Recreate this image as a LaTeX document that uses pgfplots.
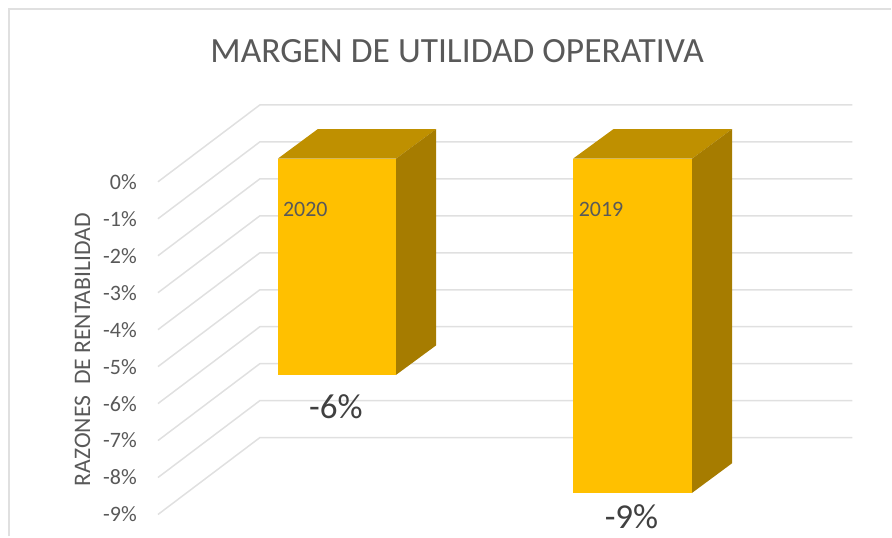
\documentclass[border=0pt]{standalone}
\usepackage{pgfplots}
\pgfplotsset{compat=1.18}
\usepackage{fontspec}
\setmainfont{Carlito}
\definecolor{gridc}{HTML}{E0E0E0}
\definecolor{txt}{HTML}{595959}
\definecolor{txtd}{HTML}{404040}
\definecolor{front}{HTML}{FFC000}
\definecolor{topf}{HTML}{BF9000}
\definecolor{sidef}{HTML}{A67C00}
\begin{document}
\begin{tikzpicture}
\begin{axis}[
  at={(0,0)}, anchor=south west,
  scale only axis, width=892pt, height=537pt,
  xmin=0, xmax=892, ymin=-9.5946, ymax=4.9189,
  clip=false,
  axis line style={draw=none},
  major tick length=0pt,
  xtick=\empty,
  ytick={-9,-8,-7,-6,-5,-4,-3,-2,-1,0},
  yticklabels={-9\%,-8\%,-7\%,-6\%,-5\%,-4\%,-3\%,-2\%,-1\%,0\%},
  yticklabel style={font=\fontsize{22}{22}\selectfont, text=txt, anchor=east, xshift=137pt, inner sep=0pt},
]
% chart frame
\addplot[gridc, line width=1.5pt] coordinates {(9,-9.5946) (9,4.673) (892,4.673)};
% gridlines
\addplot[gridc, line width=1.5pt] coordinates {(158,0) (260,2.08) (853,2.08)};
\addplot[gridc, line width=1.5pt] coordinates {(158,-1) (260,1.08) (853,1.08)};
\addplot[gridc, line width=1.5pt] coordinates {(158,-2) (260,0.08) (853,0.08)};
\addplot[gridc, line width=1.5pt] coordinates {(158,-3) (260,-0.92) (853,-0.92)};
\addplot[gridc, line width=1.5pt] coordinates {(158,-4) (260,-1.92) (853,-1.92)};
\addplot[gridc, line width=1.5pt] coordinates {(158,-5) (260,-2.92) (853,-2.92)};
\addplot[gridc, line width=1.5pt] coordinates {(158,-6) (260,-3.92) (853,-3.92)};
\addplot[gridc, line width=1.5pt] coordinates {(158,-7) (260,-4.92) (853,-4.92)};
\addplot[gridc, line width=1.5pt] coordinates {(158,-8) (260,-5.92) (853,-5.92)};
\addplot[gridc, line width=1.5pt] coordinates {(158,-9) (260,-6.92) (853,-6.92)};
% bar 2020 (value -5.85, zero plane raised by the 3D projection)
\addplot[fill=topf, draw=none, yshift=23.2pt] coordinates {(278,0) (396.3,0) (436.5,0.8) (318,0.8)} --cycle;
\addplot[fill=sidef, draw=none, yshift=23.2pt] coordinates {(396.3,0) (436.5,0.8) (436.5,-5.05) (396.3,-5.85)} --cycle;
\addplot[fill=front, draw=none, yshift=23.2pt] coordinates {(278,0) (396.3,0) (396.3,-5.85) (278,-5.85)} --cycle;
% bar 2019 (value -9)
\addplot[fill=topf, draw=none, yshift=23.2pt] coordinates {(573.5,0) (692.7,0) (732.7,0.8) (614,0.8)} --cycle;
\addplot[fill=sidef, draw=none, yshift=23.2pt] coordinates {(692.7,0) (732.7,0.8) (732.7,-8.24) (692.7,-9.04)} --cycle;
\addplot[fill=front, draw=none, yshift=23.2pt] coordinates {(573.5,0) (692.7,0) (692.7,-9.04) (573.5,-9.04)} --cycle;
% texts
\node[anchor=base, text=txt, inner sep=0pt, font=\fontsize{35.5}{36}\selectfont] at (axis cs:457.5,3.23) {MARGEN DE UTILIDAD OPERATIVA};
\node[anchor=base, rotate=90, text=txt, inner sep=0pt, font=\fontsize{23.7}{24}\selectfont] at (axis cs:90,-4.54) {RAZONES\ \ DE RENTABILIDAD};
\node[anchor=base west, text=txt, inner sep=0pt, font=\fontsize{22}{22}\selectfont] at (axis cs:283,-0.95) {2020};
\node[anchor=base west, text=txt, inner sep=0pt, font=\fontsize{22}{22}\selectfont] at (axis cs:579,-0.95) {2019};
\node[anchor=base, text=txtd, inner sep=0pt, font=\fontsize{35}{35}\selectfont] at (axis cs:336,-6.41) {-6\%};
\node[anchor=base, text=txtd, inner sep=0pt, font=\fontsize{35}{35}\selectfont] at (axis cs:632,-9.38) {-9\%};
\end{axis}
\end{tikzpicture}
\end{document}
